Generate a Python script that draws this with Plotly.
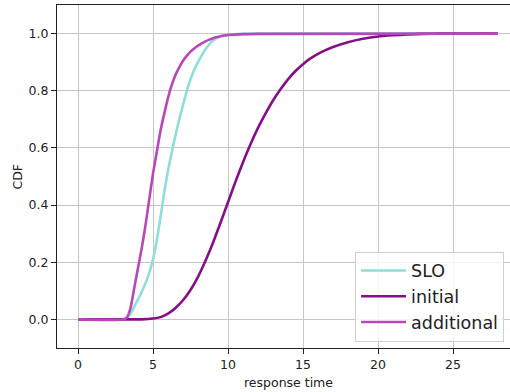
import plotly.graph_objects as go

# SLO and additional share a fine grid of response times
fast_time = [0, 3.0, 3.25, 3.5, 3.75, 4.0, 4.25, 4.5, 4.75, 5.0, 5.25, 5.5, 5.75,
             6.0, 6.25, 6.5, 6.75, 7.0, 7.25, 7.5, 7.75, 8.0, 8.25, 8.5, 8.75,
             9.0, 9.25, 9.5, 9.75, 10.0, 11.0, 12.0, 28.0]

slo_cdf = [0, 0, 0.005, 0.02, 0.045, 0.07, 0.097, 0.127, 0.163, 0.21, 0.275, 0.357, 0.445,
           0.52, 0.585, 0.645, 0.70, 0.75, 0.798, 0.84, 0.873, 0.90, 0.924, 0.945, 0.962,
           0.975, 0.984, 0.99, 0.994, 0.996, 0.999, 1.0, 1.0]

additional_cdf = [0, 0, 0.006, 0.04, 0.11, 0.18, 0.25, 0.33, 0.42, 0.51, 0.585, 0.66, 0.72,
                  0.775, 0.82, 0.855, 0.882, 0.905, 0.922, 0.937, 0.948, 0.958, 0.966, 0.973, 0.979,
                  0.984, 0.988, 0.991, 0.993, 0.995, 0.998, 0.999, 1.0]

initial_time = [0, 4.0, 4.5, 5.0, 5.5, 6.0, 6.5, 7.0, 7.5, 8.0, 8.5, 9.0, 9.5, 10.0,
                10.5, 11.0, 11.5, 12.0, 12.5, 13.0, 13.5, 14.0, 14.5, 15.0, 15.5, 16.0,
                16.5, 17.0, 18.0, 19.0, 20.0, 21.0, 22.0, 23.0, 24.0, 28.0]

initial_cdf = [0, 0, 0.001, 0.003, 0.008, 0.02, 0.04, 0.067, 0.103, 0.149, 0.205, 0.268, 0.338, 0.41,
               0.482, 0.55, 0.613, 0.67, 0.72, 0.766, 0.805, 0.84, 0.869, 0.893, 0.913, 0.929,
               0.942, 0.953, 0.97, 0.982, 0.99, 0.994, 0.997, 0.999, 1.0, 1.0]

series_names = ["SLO", "initial", "additional"]
series_x = [fast_time, initial_time, fast_time]
series_values = [slo_cdf, initial_cdf, additional_cdf]
series_colors = ["#8FDED7", "#850F88", "#B848B9"]

x_ticks = [0, 5, 10, 15, 20, 25]
y_ticks = [0.0, 0.2, 0.4, 0.6, 0.8, 1.0]

FONT = "DejaVu Sans"

fig = go.Figure()
for name, xs, vals, col in zip(series_names, series_x, series_values, series_colors):
    fig.add_trace(go.Scatter(
        x=xs, y=vals, name=name, mode="lines",
        line=dict(color=col, width=2.6, shape="spline", smoothing=0.6),
    ))

axis_common = dict(
    showgrid=True, gridcolor="#c6c6c6", gridwidth=1.1,
    zeroline=False, showline=True, linecolor="#222222", linewidth=1.1,
    ticks="outside", ticklen=5, tickwidth=1, tickcolor="#222222",
    tickfont=dict(family=FONT, size=12.5, color="#222222"),
)

fig.update_layout(
    width=510, height=392,
    margin=dict(l=57, r=0, t=5, b=44, autoexpand=False),
    paper_bgcolor="white", plot_bgcolor="white",
    font=dict(family=FONT, color="#222222"),
    xaxis=dict(range=[-1.4, 28.8], tickvals=x_ticks,
               ticktext=[str(t) for t in x_ticks], mirror=True, **axis_common),
    yaxis=dict(range=[-0.1, 1.1], tickvals=y_ticks,
               ticktext=[f"{t:.1f}" for t in y_ticks], mirror=False, **axis_common),
    showlegend=True,
    legend=dict(
        x=0.658, y=0.281, xanchor="left", yanchor="top",
        bgcolor="rgba(255,255,255,0.8)", bordercolor="#d0d0d0", borderwidth=1,
        font=dict(family=FONT, size=17.5, color="#222222"),
        itemwidth=45, tracegroupgap=0,
    ),
    annotations=[
        dict(text="response time", xref="paper", yref="paper", x=0.511, y=0,
             yanchor="middle", xanchor="center", showarrow=False, yshift=-34,
             font=dict(family=FONT, size=12.5, color="#222222")),
        dict(text="CDF", xref="paper", yref="paper", x=0, y=0.5, xshift=-40,
             xanchor="center", yanchor="middle", textangle=-90, showarrow=False,
             font=dict(family=FONT, size=12.5, color="#222222")),
    ],
)

fig.write_html("out.html", config={"displayModeBar": False},
               post_script="document.body.style.margin='0';")
